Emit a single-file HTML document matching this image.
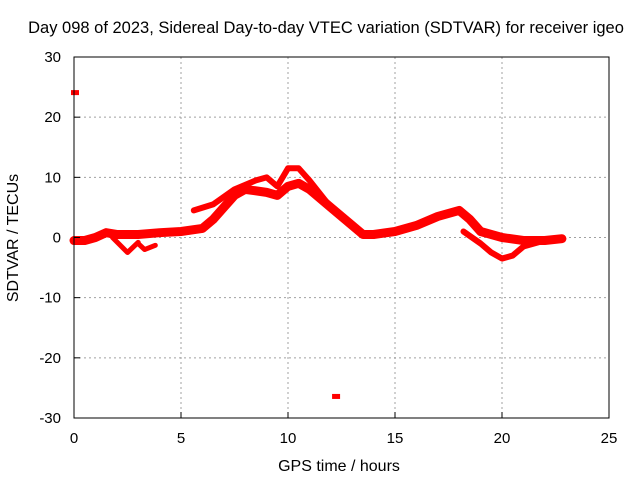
<!DOCTYPE html>
<html><head><meta charset="utf-8"><style>
body{margin:0;background:#fff;}
svg{display:block;font-family:"Liberation Sans",sans-serif;}
</style></head><body>
<svg id="chart" width="640" height="480" viewBox="0 0 640 480">
<text x="326" y="33" font-size="16.5" text-anchor="middle">Day 098 of 2023, Sidereal Day-to-day VTEC variation (SDTVAR) for receiver igeo</text>
<g id="grid"></g>
<g id="series"></g>
<rect x="74" y="57" width="535" height="361" fill="none" stroke="#000" stroke-width="1"/>
<g id="ticks"></g>
<text x="339" y="471" font-size="16" text-anchor="middle">GPS time / hours</text>
<text transform="translate(18,238) rotate(-90)" font-size="16" text-anchor="middle">SDTVAR / TECUs</text>
</svg>
<script>
const xTicks=[0,5,10,15,20,25];
const yTicks=[-30,-20,-10,0,10,20,30];
const traceMain=[[0,-0.5],[0.5,-0.5],[1,0],[1.5,0.8],[2,0.5],[3,0.5],[4,0.8],[5,1],[6,1.5],[6.5,3],[7,5],[7.5,7],[8,8],[9,7.5],[9.5,7],[10,8.5],[10.5,9],[11,8],[12,5],[13,2],[13.5,0.5],[14,0.5],[15,1],[16,2],[17,3.5],[18,4.5],[18.5,3],[19,1],[20,0],[21,-0.5],[22,-0.5],[22.8,-0.2]];
const traceUpper=[[5.6,4.5],[6.5,5.5],[7.5,8],[8.5,9.5],[9,10],[9.5,8.5],[10,11.5],[10.5,11.5],[11,9.5],[12,5]];
const traceLower=[[18.2,1],[19,-1],[19.5,-2.5],[20,-3.5],[20.5,-3],[21,-1.5],[22,-0.5]];
const traceDip1=[[1.8,0],[2.5,-2.5],[3,-0.8]];
const traceDip2=[[3,-1],[3.3,-2],[3.8,-1.3]];
const outliers=[[0,24],[12.2,-26.5]];
const X=v=>74+v*(535/25), Y=v=>237.5-v*(361/60);
const NS="http://www.w3.org/2000/svg";
const grid=document.getElementById('grid'),ticks=document.getElementById('ticks'),series=document.getElementById('series');
function mk(t,a,p){const e=document.createElementNS(NS,t);for(const k in a)e.setAttribute(k,a[k]);p.appendChild(e);return e;}
xTicks.forEach(v=>{
 if(v>0&&v<25){const g=mk('line',{x1:X(v),x2:X(v),y1:57,y2:418,stroke:'#a0a0a0','stroke-dasharray':'2,3'},grid);
 
 }
 const t=mk('text',{x:X(v),y:443,'font-size':15,'text-anchor':'middle'},ticks);t.textContent=v;
 
 
 mk('line',{x1:X(v),x2:X(v),y1:418,y2:412,stroke:'#000'},ticks);
});
yTicks.forEach(v=>{
 if(v>-30&&v<30){const g=mk('line',{x1:74,x2:609,y1:Y(v),y2:Y(v),stroke:'#a0a0a0','stroke-dasharray':'2,3'},grid);
 
 }
 const t=mk('text',{x:61,y:Y(v)+5,'font-size':15,'text-anchor':'end'},ticks);t.textContent=v;
 
 
 mk('line',{x1:74,x2:80,y1:Y(v),y2:Y(v),stroke:'#000'},ticks);
});
function line(d,w,name){
 const p=mk('polyline',{points:d.map(q=>X(q[0])+','+Y(q[1])).join(' '),fill:'none',stroke:'#ff0000','stroke-width':w,'stroke-linejoin':'round','stroke-linecap':'round'},series);
 
 
}
line(traceMain,9,'sdtvar-main-trace');
line(traceUpper,6,'sdtvar-upper-trace');
line(traceLower,6,'sdtvar-lower-trace');
line(traceDip1,5,'sdtvar-dip-trace');
line(traceDip2,5,'sdtvar-dip-trace-2');
outliers.forEach(o=>{
 const r=mk('rect',{x:X(o[0])-3,y:Y(o[1])-3,width:8,height:5,fill:'#ff0000'},series);
 
 
});
</script>
</body></html>
